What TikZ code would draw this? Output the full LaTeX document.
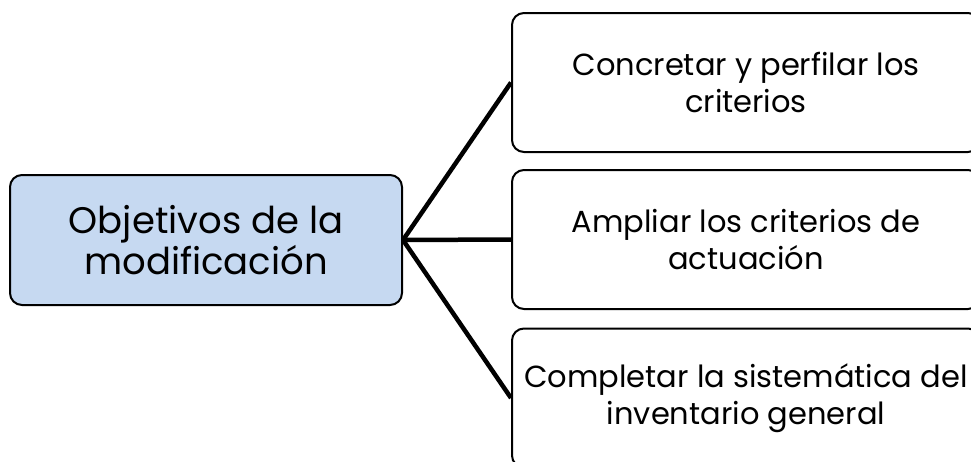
\documentclass[tikz,border=0pt]{standalone}
\usepackage{fontspec}
\setmainfont{Poppins}
\definecolor{boxblue}{HTML}{C6D9F1}
\begin{document}
\begin{tikzpicture}[x=1pt,y=-1pt,
  box/.style={draw=black, line width=2pt, rounded corners=12pt, align=center, inner sep=0pt},
  rootbox/.style={box, fill=boxblue, minimum width=392pt, minimum height=130pt, font=\fontsize{37}{41}\selectfont},
  leafbox/.style={box, fill=white, minimum width=468pt, minimum height=139pt, font=\fontsize{30.5}{37}\selectfont},
  link/.style={line width=4.5pt}]
\useasboundingbox (0,0) rectangle (971,461);
\node[rootbox] (root) at (206,240) {Objetivos de la\\modificación};
\node[leafbox] (c1) at (746,82.5) {Concretar y perfilar los\\criterios};
\node[leafbox] (c2) at (746,239.5) {Ampliar los criterios de\\actuación};
\node[leafbox] (c3) at (746,398) {Completar la sistemática del\\inventario general};
\draw[link] (root.east) -- (c1.west);
\draw[link] (root.east) -- (c2.west);
\draw[link] (root.east) -- (c3.west);
\end{tikzpicture}
\end{document}
